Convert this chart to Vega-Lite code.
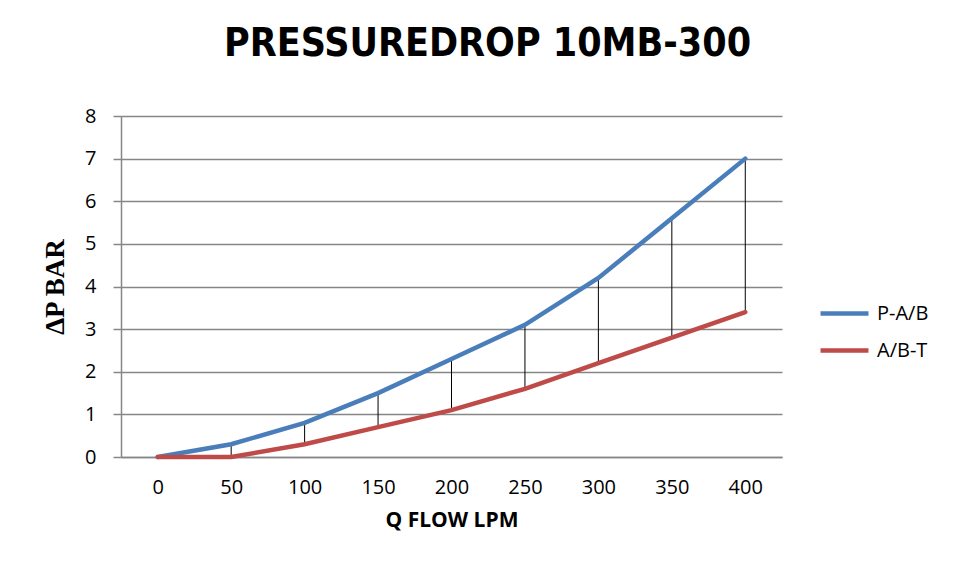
{
  "$schema": "https://vega.github.io/schema/vega-lite/v6.json",
  "autosize": "none",
  "width": 661,
  "height": 341,
  "padding": {"left": 121, "top": 116, "right": 182, "bottom": 121},
  "background": "white",
  "title": {
    "text": "PRESSUREDROP 10MB-300",
    "font": "DejaVu Sans Condensed",
    "fontWeight": "bold",
    "fontSize": 39,
    "color": "#000000",
    "anchor": "middle",
    "frame": "group",
    "dx": 36,
    "offset": 42
  },
  "data": {
    "values": [
      {"q": "0", "P-A/B": 0, "A/B-T": 0},
      {"q": "50", "P-A/B": 0.3, "A/B-T": 0},
      {"q": "100", "P-A/B": 0.8, "A/B-T": 0.3},
      {"q": "150", "P-A/B": 1.5, "A/B-T": 0.7},
      {"q": "200", "P-A/B": 2.3, "A/B-T": 1.1},
      {"q": "250", "P-A/B": 3.1, "A/B-T": 1.6},
      {"q": "300", "P-A/B": 4.2, "A/B-T": 2.2},
      {"q": "350", "P-A/B": 5.6, "A/B-T": 2.8},
      {"q": "400", "P-A/B": 7.0, "A/B-T": 3.4}
    ]
  },
  "encoding": {
    "x": {
      "field": "q",
      "type": "ordinal",
      "sort": null,
      "scale": {"type": "point", "padding": 0.5},
      "axis": {
        "title": "Q FLOW LPM",
        "titleFont": "Open Sans",
        "titleFontWeight": "bold",
        "titleFontSize": 21,
        "titleColor": "#000000",
        "titlePadding": 12,
        "labelAngle": 0,
        "labelFont": "Open Sans",
        "labelFontSize": 20,
        "labelColor": "#000000",
        "labelPadding": 20,
        "ticks": false,
        "domain": true,
        "domainColor": "#868686",
        "domainWidth": 1.5,
        "grid": false
      }
    }
  },
  "layer": [
    {
      "mark": {"type": "rule", "color": "#000000", "strokeWidth": 1},
      "encoding": {
        "y": {
          "field": "A/B-T",
          "type": "quantitative",
          "scale": {"domain": [0, 8], "nice": false},
          "axis": {
            "title": "ΔP BAR",
            "titleFont": "Liberation Serif",
            "titleFontWeight": "bold",
            "titleFontSize": 27,
            "titleColor": "#000000",
            "titlePadding": 15,
            "values": [0, 1, 2, 3, 4, 5, 6, 7, 8],
            "labelOverlap": false,
            "labelFont": "Open Sans",
            "labelFontSize": 20,
            "labelColor": "#000000",
            "labelPadding": 17,
            "ticks": true,
            "tickSize": 8,
            "tickColor": "#868686",
            "tickWidth": 1.5,
            "domainColor": "#868686",
            "domainWidth": 1.5,
            "grid": true,
            "gridColor": "#868686",
            "gridWidth": 1.5
          }
        },
        "y2": {"field": "P-A/B"}
      }
    },
    {
      "transform": [{"fold": ["P-A/B", "A/B-T"], "as": ["series", "value"]}],
      "mark": {"type": "line", "strokeWidth": 4.5, "strokeCap": "round"},
      "encoding": {
        "y": {
          "field": "value",
          "type": "quantitative",
          "scale": {"domain": [0, 8], "nice": false},
          "axis": {
            "title": "ΔP BAR",
            "titleFont": "Liberation Serif",
            "titleFontWeight": "bold",
            "titleFontSize": 27,
            "titleColor": "#000000",
            "titlePadding": 15,
            "values": [0, 1, 2, 3, 4, 5, 6, 7, 8],
            "labelOverlap": false,
            "labelFont": "Open Sans",
            "labelFontSize": 20,
            "labelColor": "#000000",
            "labelPadding": 17,
            "ticks": true,
            "tickSize": 8,
            "tickColor": "#868686",
            "tickWidth": 1.5,
            "domainColor": "#868686",
            "domainWidth": 1.5,
            "grid": true,
            "gridColor": "#868686",
            "gridWidth": 1.5
          }
        },
        "color": {
          "field": "series",
          "type": "nominal",
          "sort": ["P-A/B", "A/B-T"],
          "scale": {"domain": ["P-A/B", "A/B-T"], "range": ["#4a7ebb", "#be4b48"]},
          "legend": {
            "title": null,
            "orient": "none",
            "legendX": 697,
            "legendY": 171,
            "symbolType": "stroke",
            "symbolStrokeWidth": 4.5,
            "symbolSize": 2300,
            "labelFont": "Open Sans",
            "labelFontSize": 20,
            "labelColor": "#000000",
            "labelOffset": 6,
            "rowPadding": 0
          }
        }
      }
    }
  ],
  "config": {"view": {"stroke": null}}
}
